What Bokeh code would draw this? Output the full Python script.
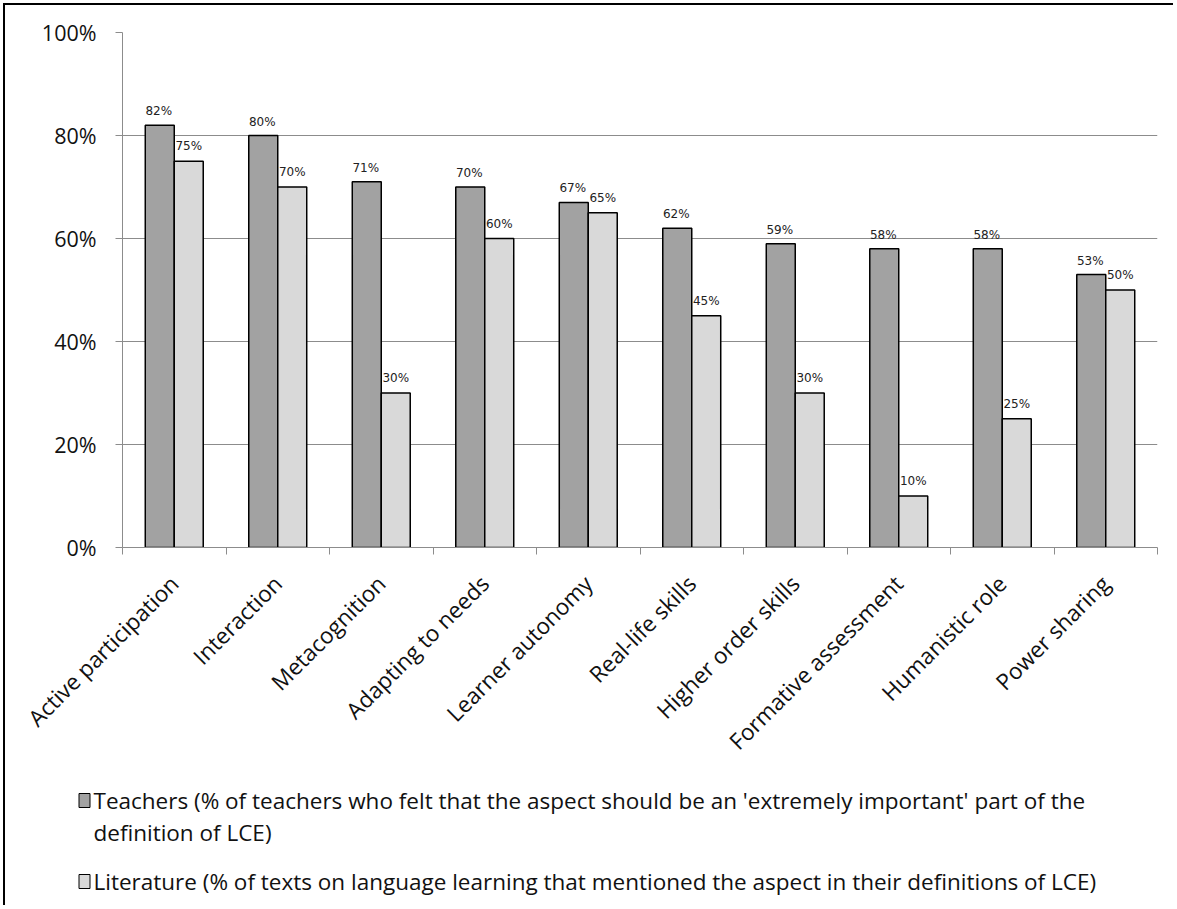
import math
from bokeh.plotting import figure
from bokeh.layouts import column
from bokeh.models import ColumnDataSource, Range1d, FixedTicker, PrintfTickFormatter
from bokeh.transform import dodge
from bokeh.core.properties import value
from bokeh.embed import file_html
from bokeh.resources import INLINE

categories = ["Active participation", "Interaction", "Metacognition", "Adapting to needs",
              "Learner autonomy", "Real-life skills", "Higher order skills",
              "Formative assessment", "Humanistic role", "Power sharing"]
teachers = [82, 80, 71, 70, 67, 62, 59, 58, 58, 53]
literature = [75, 70, 30, 60, 65, 45, 30, 10, 25, 50]
y_ticks = [0, 20, 40, 60, 80, 100]
legend_lines_teachers = ["Teachers (% of teachers who felt that the aspect should be an 'extremely important' part of the",
                         "definition of LCE)"]
legend_lines_literature = ["Literature (% of texts on language learning that mentioned the aspect in their definitions of LCE)"]

TEACH_COLOR = "#a2a2a2"
LIT_COLOR = "#d9d9d9"
GRID = "#8c8c8c"
FONT = "Open Sans"

pos = [i + 0.5 for i in range(len(categories))]
src = ColumnDataSource(dict(
    x=pos, teachers=teachers, literature=literature,
    tlab=[f"{v}%" for v in teachers], llab=[f"{v}%" for v in literature],
))

W = 1168
p = figure(width=W, height=765, output_backend="svg", toolbar_location=None,
           x_range=Range1d(0, len(categories)), y_range=Range1d(0, 100),
           min_border_left=117, min_border_right=16, min_border_top=27, min_border_bottom=219)
p.outline_line_color = None
p.background_fill_color = "white"
p.frame_align = False

bw = 0.28
p.vbar(x=dodge("x", -bw / 2, range=p.x_range), top="teachers", width=bw, source=src,
       fill_color=TEACH_COLOR, line_color="black", line_width=1.5)
p.vbar(x=dodge("x", bw / 2, range=p.x_range), top="literature", width=bw, source=src,
       fill_color=LIT_COLOR, line_color="black", line_width=1.5)

p.text(x=dodge("x", -bw / 2 - 0.01, range=p.x_range), y="teachers", text="tlab", source=src,
       text_align="center", text_baseline="alphabetic", y_offset=-14,
       text_font=value("DejaVu Sans"), text_font_size="12px", text_color="#222222")
p.text(x=dodge("x", bw / 2, range=p.x_range), y="literature", text="llab", source=src,
       text_align="center", text_baseline="alphabetic", y_offset=-15,
       text_font=value("DejaVu Sans"), text_font_size="12px", text_color="#222222")

# y axis
p.yaxis.ticker = FixedTicker(ticks=y_ticks)
p.yaxis.formatter = PrintfTickFormatter(format="%d%%")
p.yaxis.axis_line_color = GRID
p.yaxis.major_tick_line_color = GRID
p.yaxis.major_tick_out = 7
p.yaxis.major_tick_in = 0
p.yaxis.minor_tick_line_color = None
p.yaxis.major_label_standoff = 19
p.yaxis.major_label_text_font = FONT
p.yaxis.major_label_text_font_size = "21.5px"
p.yaxis.major_label_text_color = "#111111"

# x axis
p.xaxis.ticker = FixedTicker(ticks=pos, minor_ticks=list(range(len(categories) + 1)))
p.xaxis.major_label_overrides = {x: c for x, c in zip(pos, categories)}
p.xaxis.major_label_orientation = math.pi / 4
p.xaxis.axis_line_color = GRID
p.xaxis.major_tick_line_color = None
p.xaxis.major_tick_out = 0
p.xaxis.minor_tick_line_color = GRID
p.xaxis.minor_tick_out = 7
p.xaxis.minor_tick_in = 0
p.xaxis.major_label_standoff = 25
p.xaxis.major_label_text_font = FONT
p.xaxis.major_label_text_font_size = "22.5px"
p.xaxis.major_label_text_color = "#111111"

p.xgrid.grid_line_color = None
p.ygrid.ticker = FixedTicker(ticks=y_ticks)
p.ygrid.grid_line_color = GRID
p.ygrid.grid_line_width = 1

# legend panel
LH = 135
lg = figure(width=W, height=LH, output_backend="svg", toolbar_location=None,
            x_range=Range1d(0, W), y_range=Range1d(LH, 0),
            x_axis_location=None, y_axis_location=None,
            min_border=0, min_border_left=0, min_border_right=0, min_border_top=0, min_border_bottom=0)
lg.grid.visible = False
lg.outline_line_color = None
lg.frame_align = False

# legend positions (panel pixels)
mx, tx = 79, 88
rows = [(30, legend_lines_teachers[0]), (62, legend_lines_teachers[1]), (111, legend_lines_literature[0])]
lg.rect(x=[mx, mx], y=[rows[0][0], rows[2][0]], width=11, height=14,
        fill_color=[TEACH_COLOR, LIT_COLOR], line_color="black", line_width=1)
lg.text(x=[tx] * 3, y=[r[0] for r in rows], text=[r[1] for r in rows],
        text_align="left", text_baseline="middle",
        text_font=value(FONT), text_font_size="22.5px", text_color="#111111")

layout = column(p, lg, spacing=0,
                styles={"border-left": "2px solid #000", "border-top": "2px solid #000",
                        "margin-left": "3px", "margin-top": "3px"})

open("out.html", "w").write(file_html(layout, INLINE))
